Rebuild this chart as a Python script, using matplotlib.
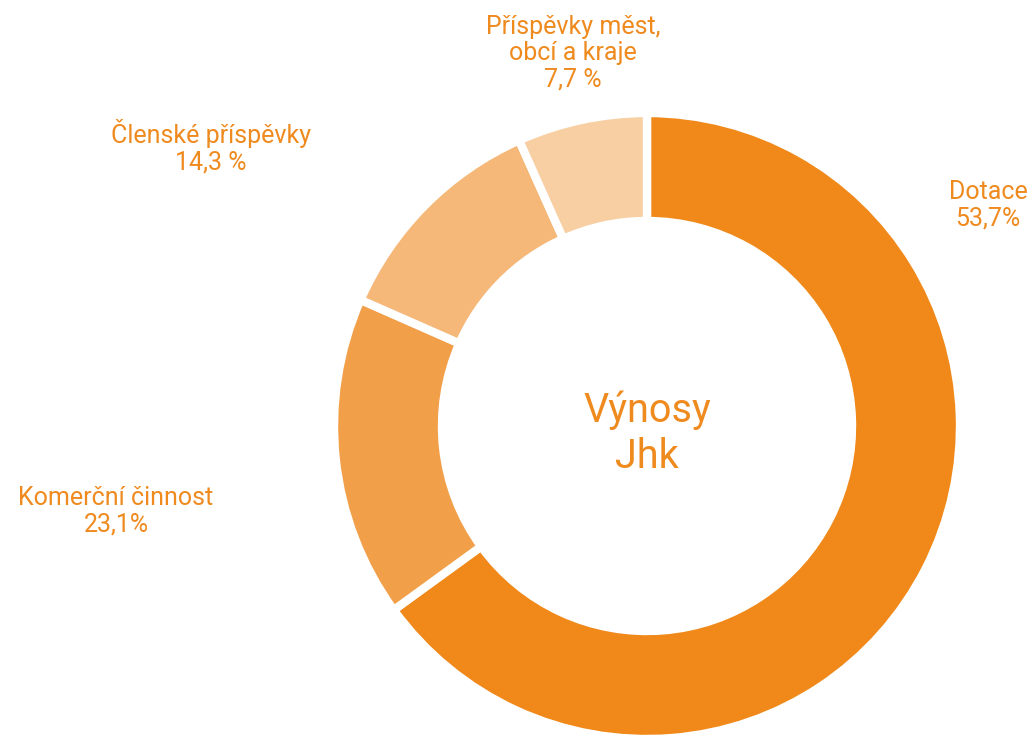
import matplotlib
matplotlib.use("Agg")
import matplotlib.pyplot as plt

plt.rcParams['font.family'] = ['Roboto', 'DejaVu Sans']

categories = ["Dotace", "Komerční činnost", "Členské příspěvky", "Příspěvky měst,\nobcí a kraje"]
label_values = ["53,7%", "23,1%", "14,3 %", "7,7 %"]
drawn_shares = [65.0, 16.6, 11.7, 6.7]
colors = ["#F0891A", "#F29F4A", "#F5B879", "#F8CFA3"]
text_color = "#EF8A1E"

W, H = 1034, 736
cx, cy, R = 647, 426, 313

fig = plt.figure(figsize=(W / 100, H / 100), dpi=100)
ax = fig.add_axes([(cx - R) / W, (H - cy - R) / H, 2 * R / W, 2 * R / H])

ax.pie(drawn_shares, colors=colors, startangle=90, counterclock=False,
       radius=1.0,
       wedgeprops=dict(width=0.345, edgecolor="white", linewidth=6))

ax.set_xlim(-1, 1)
ax.set_ylim(-1, 1)
ax.set_aspect("equal")
ax.set_axis_off()

# label positions in pixels of the picture
def to_data(px, py):
    return (px - cx) / R, (cy - py) / R

label_px = [(988, 205), (116, 511), (211, 147), (573, 53)]
for name, val, (px, py) in zip(categories, label_values, label_px):
    x, y = to_data(px, py)
    ax.text(x, y, name + "\n" + val, ha="center", va="center",
            multialignment="center", fontsize=18, color=text_color,
            linespacing=1.12, clip_on=False)

ax.text(0, to_data(0, 433)[1], "Výnosy\nJhk", ha="center", va="center",
        fontsize=28.5, color=text_color, linespacing=1.22)

plt.savefig("out.png", dpi=100)
